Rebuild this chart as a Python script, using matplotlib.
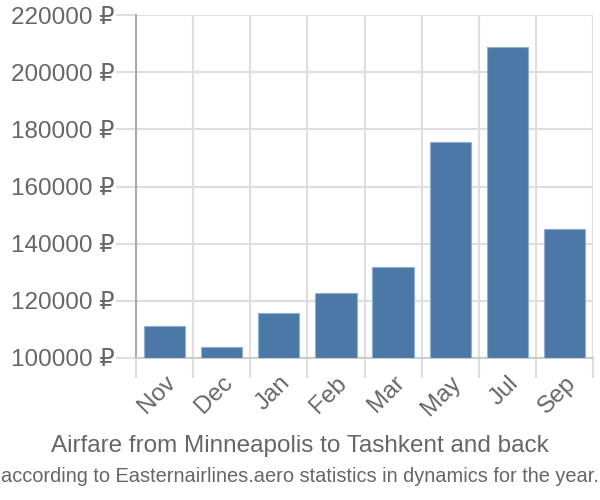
import numpy as np
import matplotlib.pyplot as plt

plt.rcParams['font.family'] = ['Liberation Sans', 'DejaVu Sans']

months = ["Nov", "Dec", "Jan", "Feb", "Mar", "May", "Jul", "Sep"]
prices = [111300, 103700, 115700, 122900, 131800, 175400, 208700, 145300]
yticks = [100000, 120000, 140000, 160000, 180000, 200000, 220000]
base = 100000

grid_col = "#dedede"
text_col = "#666666"

fig = plt.figure(figsize=(6, 5), dpi=100)
ax = fig.add_axes([136 / 600, 1 - 358 / 500, 457 / 600, 343 / 500])

x = np.arange(len(months))
heights = [p - base for p in prices]
ax.bar(x, heights, bottom=base, width=0.72, color="#4c78a8",
       edgecolor="#8fb0d6", linewidth=0.8, zorder=3)

ax.set_xlim(-0.5, len(months) - 0.5)
ax.set_ylim(base, 220000)

# category boundaries as major ticks (long grey marks), labels on minor ticks
ax.set_xticks(np.arange(len(months) + 1) - 0.5)
ax.set_xticklabels([])
ax.set_xticks(x, minor=True)
ax.set_xticklabels(months, minor=True, rotation=45, ha="right",
                   rotation_mode="anchor", fontsize=17.5, color=text_col)
ax.tick_params(axis="x", which="major", length=14.4, width=1.5, color=grid_col)
ax.tick_params(axis="x", which="minor", length=0, pad=10)
ax.grid(axis="x", which="major", color=grid_col, linewidth=1.5, zorder=0)

ax.set_yticks(yticks)
ax.set_yticklabels([f"{v} ₽" for v in yticks], fontsize=17.5, color=text_col)
ax.tick_params(axis="y", length=14.4, width=1.5, color=grid_col, pad=1)
ax.grid(axis="y", color=grid_col, linewidth=1.5, zorder=0)

for s in ["top", "right"]:
    ax.spines[s].set_visible(False)
ax.spines["bottom"].set_color("#cccccc")
ax.spines["bottom"].set_linewidth(1.5)
ax.spines["left"].set_color("#aaaaaa")
ax.spines["left"].set_linewidth(1.5)
ax.spines["left"].set_bounds(base, 220000)
ax.set_axisbelow(True)

fig.text(0.5, 1 - 446 / 500, "Airfare from Minneapolis to Tashkent and back",
         ha="center", va="center", fontsize=17.5, color=text_col)
fig.text(0.5, 1 - 477 / 500,
         "according to Easternairlines.aero statistics in dynamics for the year.",
         ha="center", va="center", fontsize=14.4, color=text_col)

fig.savefig("out.png", dpi=100)
